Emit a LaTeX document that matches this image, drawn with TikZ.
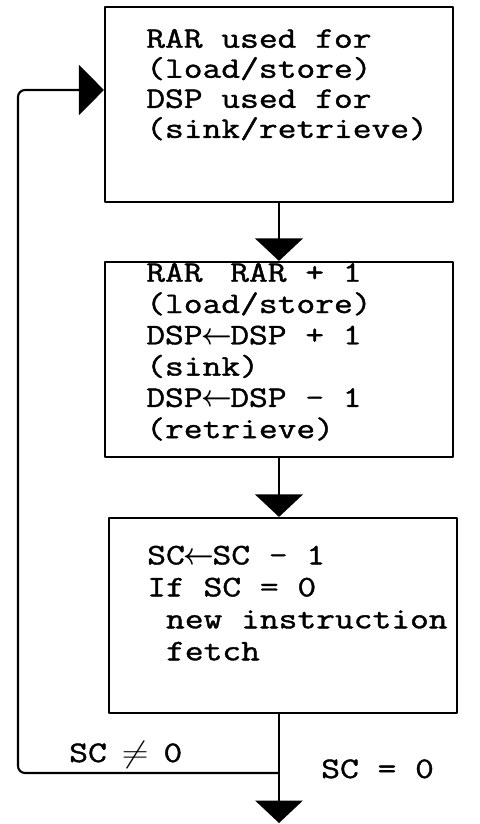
\documentclass[tikz,border=0pt]{standalone}
\usepackage{amsmath}
\usepackage{fontspec}
\setmonofont{Latin Modern Mono}[FakeBold=1.2]
\usetikzlibrary{arrows.meta}
\newcommand\larr{\makebox[0.76em]{\scalebox{0.72}[1]{$\boldsymbol{\leftarrow}$}}}
\newcommand\nequal{\makebox[0.525em]{$\neq$}}
\begin{document}
\begin{tikzpicture}[line join=round, line cap=round, line width=1.2pt,
	>={Triangle[width=0.95cm,length=0.45cm]},
	box/.style={draw, minimum width=6.96cm, minimum height=3.9cm, inner sep=0pt},
	txt/.style={font=\fontsize{17}{17.8}\selectfont\ttfamily, align=left, inner sep=0pt, xscale=1.22, anchor=north west},
	lbl/.style={font=\fontsize{17}{17.8}\selectfont\ttfamily, inner sep=0pt, xscale=1.22, anchor=base west}]
	\useasboundingbox (0,0) rectangle (9.58,-16.48);
	\node[box] (rar) at (5.58,-2.09) {};
	\node[box] (inc) at (5.58,-7.19) {};
	\node[box] (sc) at (5.66,-12.31) {};
	\node[txt, font=\fontsize{17}{17.1}\selectfont\ttfamily] (rartxt) at (2.90,-0.56) {RAR used for\\(load/store)\\DSP used for\\(sink/retrieve)};
	\node[txt] (inctxt) at (2.90,-5.24) {RAR\hspace{0.76em}RAR + 1\\(load/store)\\DSP\larr DSP + 1\\(sink)\\DSP\larr DSP - 1\\(retrieve)};
	\node[txt, font=\fontsize{17}{18.2}\selectfont\ttfamily] (sctxt) at (2.92,-10.894) {SC\larr SC - 1\\If SC = 0\\~new instruction\\~fetch};
	\node[lbl] (ne) at (1.36,-15.24) {SC \nequal{} 0};
	\node[lbl] (eq) at (6.40,-15.56) {SC = 0};
	\path
	(rar.west |- 0,-1.8) coordinate (in)
	(inc.south |- 0,-15.46) coordinate (split)
	(inc.south |- 0,-16.46) coordinate (out);
	\draw[->] (rar.south) -- (inc.north);
	\draw[->] (inc.south) -- (inc.south |- sc.north);
	\draw (sc.south -| inc.south) -- (split);
	\draw[->] (split) -- (out);
	\draw[-{Triangle[width=1cm,length=0.5cm]}, rounded corners=4pt] (split) -| (0.36,-1.8) -- (in);
\end{tikzpicture}
\end{document}
